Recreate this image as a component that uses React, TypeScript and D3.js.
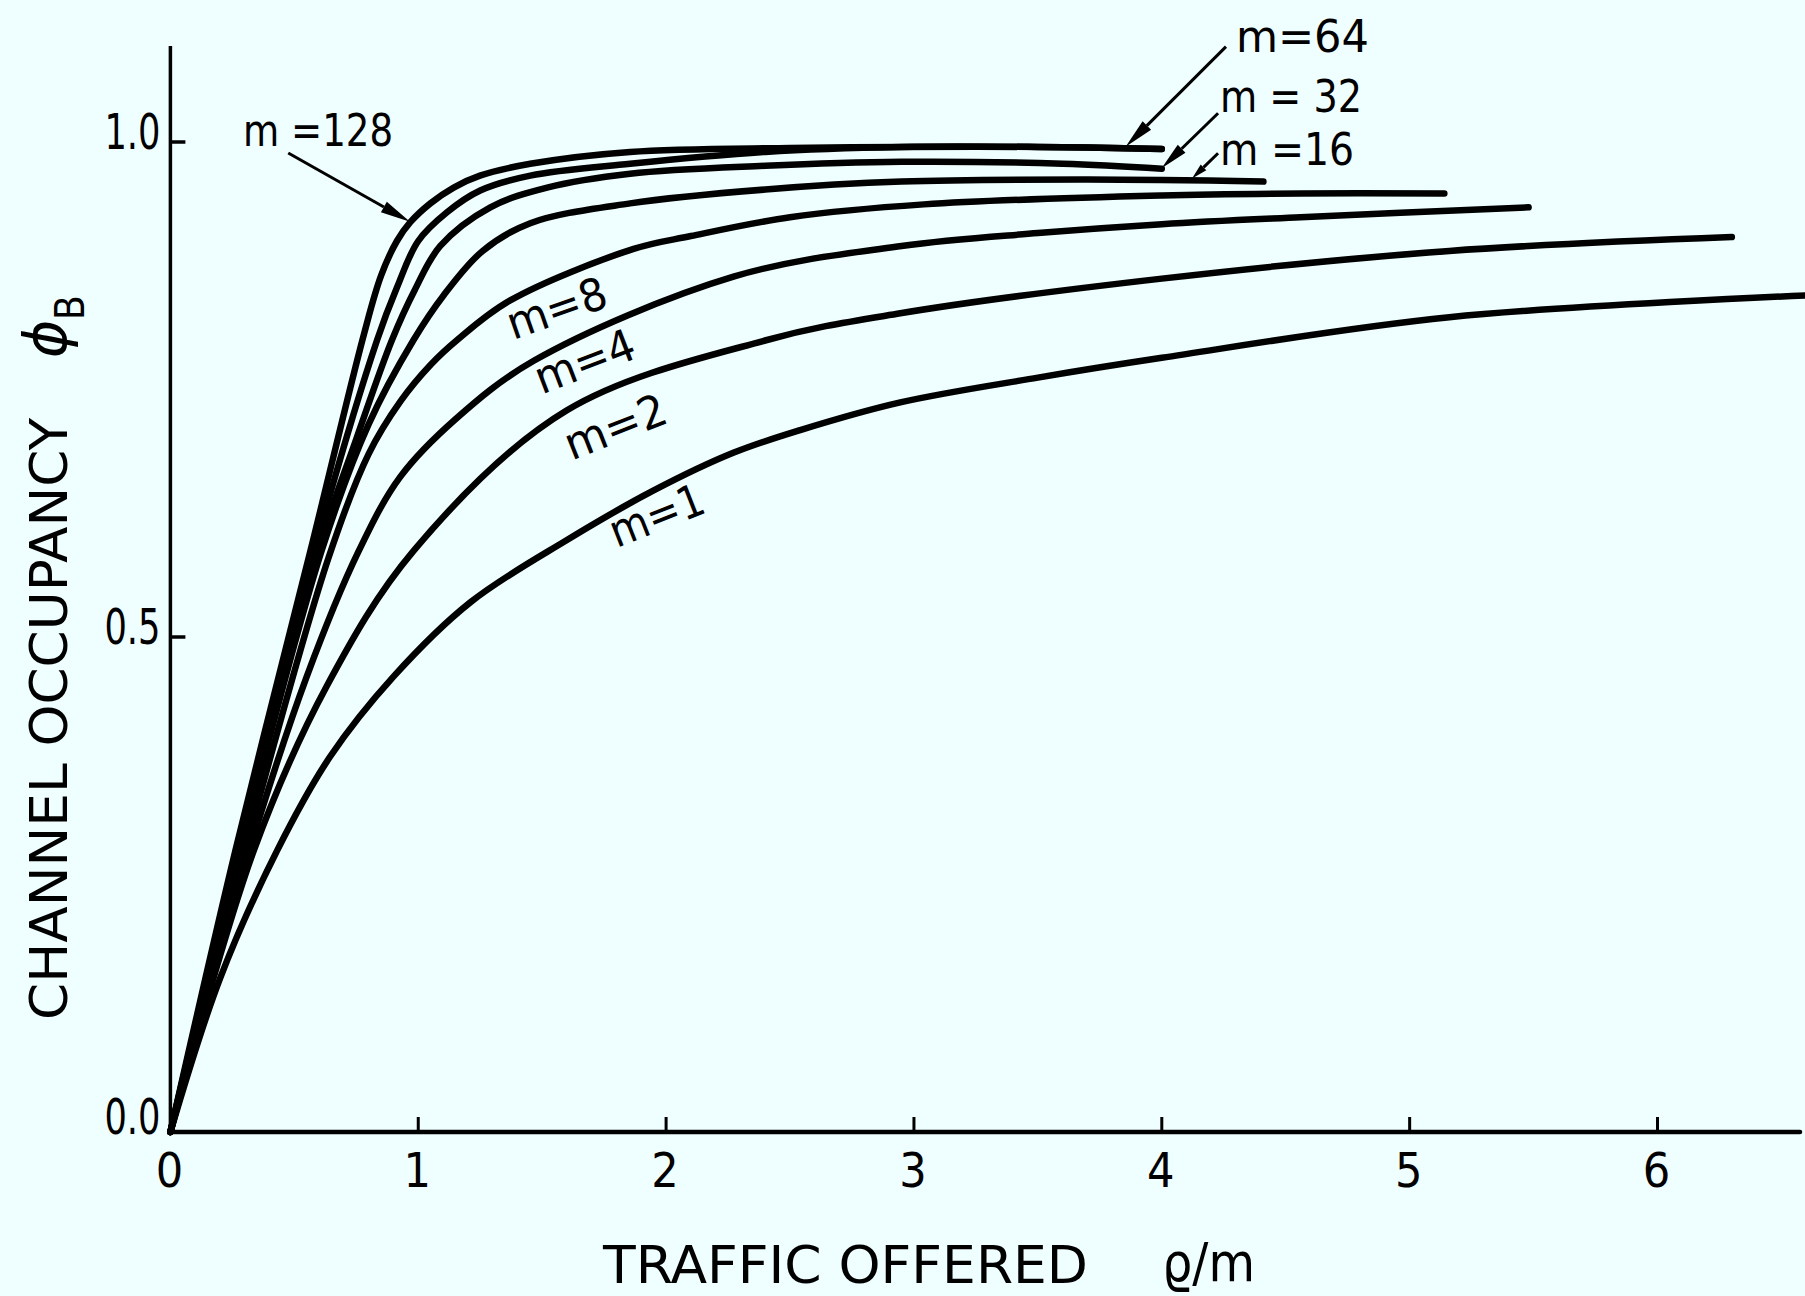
import React from 'react';
import * as d3 from 'd3';

const W = 1805;
const H = 1296;

// Axis ticks / labels
const xTickValues = [0, 1, 2, 3, 4, 5, 6];
const xTickLabels = ['0', '1', '2', '3', '4', '5', '6'];
const yTickValues = [0, 0.5, 1.0];
const yTickLabels = ['0.0', '0.5', '1.0'];

// Curves: [traffic offered rho/m, channel occupancy phi_B]
const m128 = [[0, 0], [0.262, 0.284], [0.565, 0.587], [0.78, 0.805], [0.85, 0.865], [0.914, 0.9], [0.968, 0.919], [1.049, 0.938], [1.143, 0.954], [1.249, 0.966], [1.452, 0.978], [1.855, 0.99], [2.5, 0.994], [2.95, 0.995], [3.5, 0.995], [4.0, 0.993]];
const m64 = [[0, 0], [0.27, 0.284], [0.58, 0.587], [0.834, 0.8], [0.914, 0.853], [1.0, 0.9], [1.116, 0.929], [1.25, 0.951], [1.452, 0.966], [1.855, 0.978], [2.4, 0.99], [2.95, 0.995], [3.5, 0.995], [4.0, 0.993]];
const m32 = [[0, 0], [0.275, 0.284], [0.595, 0.587], [0.75, 0.7], [0.894, 0.8], [0.985, 0.85], [1.089, 0.895], [1.291, 0.934], [1.52, 0.954], [1.855, 0.968], [2.4, 0.976], [2.95, 0.98], [3.6, 0.978], [4.0, 0.973]];
const m16 = [[0, 0], [0.282, 0.284], [0.61, 0.587], [0.8, 0.715], [0.981, 0.8], [1.102, 0.845], [1.26, 0.89], [1.452, 0.918], [1.855, 0.938], [2.4, 0.952], [2.95, 0.96], [3.7, 0.962], [4.41, 0.96]];
const m8 = [[0, 0], [0.3, 0.284], [0.638, 0.58], [0.8, 0.685], [0.928, 0.738], [1.05, 0.775], [1.157, 0.8], [1.371, 0.84], [1.869, 0.892], [2.1, 0.905], [2.5, 0.924], [3.04, 0.937], [4.0, 0.946], [4.56, 0.948], [5.14, 0.948]];
const m4 = [[0, 0], [0.318, 0.284], [0.55, 0.46], [0.76, 0.587], [0.928, 0.662], [1.15, 0.72], [1.466, 0.779], [2.272, 0.864], [2.95, 0.895], [3.5, 0.908], [4.0, 0.917], [4.56, 0.924], [5.48, 0.934]];
const m2 = [[0, 0], [0.336, 0.284], [0.63, 0.45], [0.981, 0.587], [1.6, 0.729], [2.407, 0.8], [2.945, 0.827], [4.0, 0.862], [5.16, 0.89], [6.3, 0.904]];
const m1 = [[0, 0], [0.2, 0.155], [0.43, 0.284], [0.644, 0.379], [0.9, 0.46], [1.21, 0.535], [1.6, 0.598], [1.95, 0.648], [2.271, 0.686], [2.541, 0.709], [2.945, 0.737], [3.5, 0.762], [4.0, 0.782], [5.16, 0.823], [6.6, 0.845]];

const seriesList = [m128, m64, m32, m16, m8, m4, m2, m1];

// Curve labels (text)
const straightLabels = ['m =128', 'm=64', 'm = 32', 'm =16'];
const slantLabels = ['m=8', 'm=4', 'm=2', 'm=1'];

const FONT = "'Liberation Sans Narrow', 'DejaVu Sans Condensed', Roboto, 'DejaVu Sans', sans-serif";

export default function App() {
  const x = d3.scaleLinear().domain([0, 6]).range([170.4, 170.4 + 6 * 247.85]);
  const y = d3.scaleLinear().domain([0, 1]).range([1132, 142]);
  const line = d3
    .line<number[]>()
    .x((d) => x(d[0]))
    .y((d) => y(d[1]))
    .curve(d3.curveCatmullRom.alpha(0.5));

  // annotation placement (layout, data coordinates)
  const straightPos = [
    { x: 0.293, y: 0.996, len: 150 },
    { x: 4.299, y: 1.091, len: 133 },
    { x: 4.235, y: 1.030, len: 142 },
    { x: 4.235, y: 0.977, len: 134 },
  ];
  const slantPos = [
    { x: 1.383, y: 0.8, ang: -19.3, len: 103 },
    { x: 1.498, y: 0.745, ang: -20.9, len: 104 },
    { x: 1.619, y: 0.678, ang: -21.5, len: 106 },
    { x: 1.801, y: 0.590, ang: -21.5, len: 98 },
  ];
  const arrows = [
    { s: [0.4755, 0.9889], t: [0.9667, 0.9195], hl: 30, hw: 6 },
    { s: [4.259, 1.0963], t: [3.854, 0.9952], hl: 30, hw: 6 },
    { s: [4.227, 1.029], t: [3.999, 0.9734], hl: 28, hw: 5.5 },
    { s: [4.227, 0.9886], t: [4.122, 0.9631], hl: 16, hw: 4 },
  ];

  const arrowEls = arrows.map((a, i) => {
    const sx = x(a.s[0]), sy = y(a.s[1]);
    const tx = x(a.t[0]), ty = y(a.t[1]);
    const dx = tx - sx, dy = ty - sy;
    const L = Math.hypot(dx, dy);
    const ux = dx / L, uy = dy / L;
    const nx = -uy, ny = ux;
    const bx = tx - ux * a.hl, by = ty - uy * a.hl;
    const pts = [
      [tx, ty],
      [bx + nx * a.hw, by + ny * a.hw],
      [bx - nx * a.hw, by - ny * a.hw],
    ]
      .map((p) => p.join(','))
      .join(' ');
    return (
      <g key={'ar' + i}>
        <line x1={sx} y1={sy} x2={bx} y2={by} stroke="#000" strokeWidth={3} />
        <polygon points={pts} fill="#000" />
      </g>
    );
  });

  const y0 = y(0);
  const xAxisEnd = x(6.575);
  const yAxisTop = y(1.097);

  return (
    <svg
      width={W}
      height={H}
      viewBox={`0 0 ${W} ${H}`}
      style={{ position: 'absolute', left: 0, top: 0, display: 'block' }}
      fontFamily={FONT}
    >
      <rect x={0} y={0} width={W} height={H} fill="#effefe" />

      {/* curves */}
      {seriesList.map((s, i) => (
        <path
          key={'c' + i}
          d={line(s) || ''}
          fill="none"
          stroke="#000"
          strokeWidth={6.5}
          strokeLinecap="round"
          strokeLinejoin="round"
        />
      ))}

      {/* axes */}
      <line x1={x(0)} y1={y0} x2={xAxisEnd} y2={y0} stroke="#000" strokeWidth={4.5} strokeLinecap="round" />
      <line x1={x(0)} y1={y0} x2={x(0)} y2={yAxisTop} stroke="#000" strokeWidth={3.5} />

      {xTickValues.filter((v) => v > 0).map((v) => (
        <line key={'xt' + v} x1={x(v)} x2={x(v)} y1={y0} y2={y0 - 15} stroke="#000" strokeWidth={3} />
      ))}
      {yTickValues.filter((v) => v > 0).map((v) => (
        <line key={'yt' + v} x1={x(0)} x2={x(0) + 15} y1={y(v)} y2={y(v)} stroke="#000" strokeWidth={3.5} />
      ))}

      {xTickValues.map((v, i) => (
        <text key={'xl' + v} x={x(v) - 1} y={y0 + 55} fontSize={48} textAnchor="middle" fill="#000">
          {xTickLabels[i]}
        </text>
      ))}
      {yTickValues.map((v, i) => (
        <text
          key={'yl' + v}
          x={x(0) - 10}
          y={y(v) + (v === 0 ? 2 : 7)}
          fontSize={50}
          textAnchor="end"
          textLength={56}
          lengthAdjust="spacingAndGlyphs"
          fill="#000"
        >
          {yTickLabels[i]}
        </text>
      ))}

      {/* axis titles */}
      <text x={603} y={1283} fontSize={52} textLength={485} lengthAdjust="spacingAndGlyphs" fill="#000">
        TRAFFIC OFFERED
      </text>
      <text x={1162} y={1281} fontSize={54} textLength={93} lengthAdjust="spacingAndGlyphs" fill="#000">
        ϱ/m
      </text>
      <text
        transform="translate(67,1020) rotate(-90)"
        fontSize={52}
        textLength={602}
        lengthAdjust="spacingAndGlyphs"
        fill="#000"
      >
        CHANNEL OCCUPANCY
      </text>
      <text transform="translate(66,358) rotate(-90)" fontSize={58} fontStyle="italic" fill="#000" fontFamily="'DejaVu Sans', sans-serif">
        ϕ
      </text>
      <text transform="translate(84,320) rotate(-90)" fontSize={40} fill="#000">
        B
      </text>

      {/* curve labels */}
      {straightLabels.map((t, i) => (
        <text
          key={'sl' + i}
          x={x(straightPos[i].x)}
          y={y(straightPos[i].y)}
          fontSize={44}
          textLength={straightPos[i].len}
          lengthAdjust="spacingAndGlyphs"
          fill="#000"
        >
          {t}
        </text>
      ))}
      {slantLabels.map((t, i) => (
        <text
          key={'tl' + i}
          transform={`translate(${x(slantPos[i].x)},${y(slantPos[i].y)}) rotate(${slantPos[i].ang})`}
          fontSize={45}
          textLength={slantPos[i].len}
          lengthAdjust="spacingAndGlyphs"
          fill="#000"
        >
          {t}
        </text>
      ))}

      {arrowEls}
    </svg>
  );
}
